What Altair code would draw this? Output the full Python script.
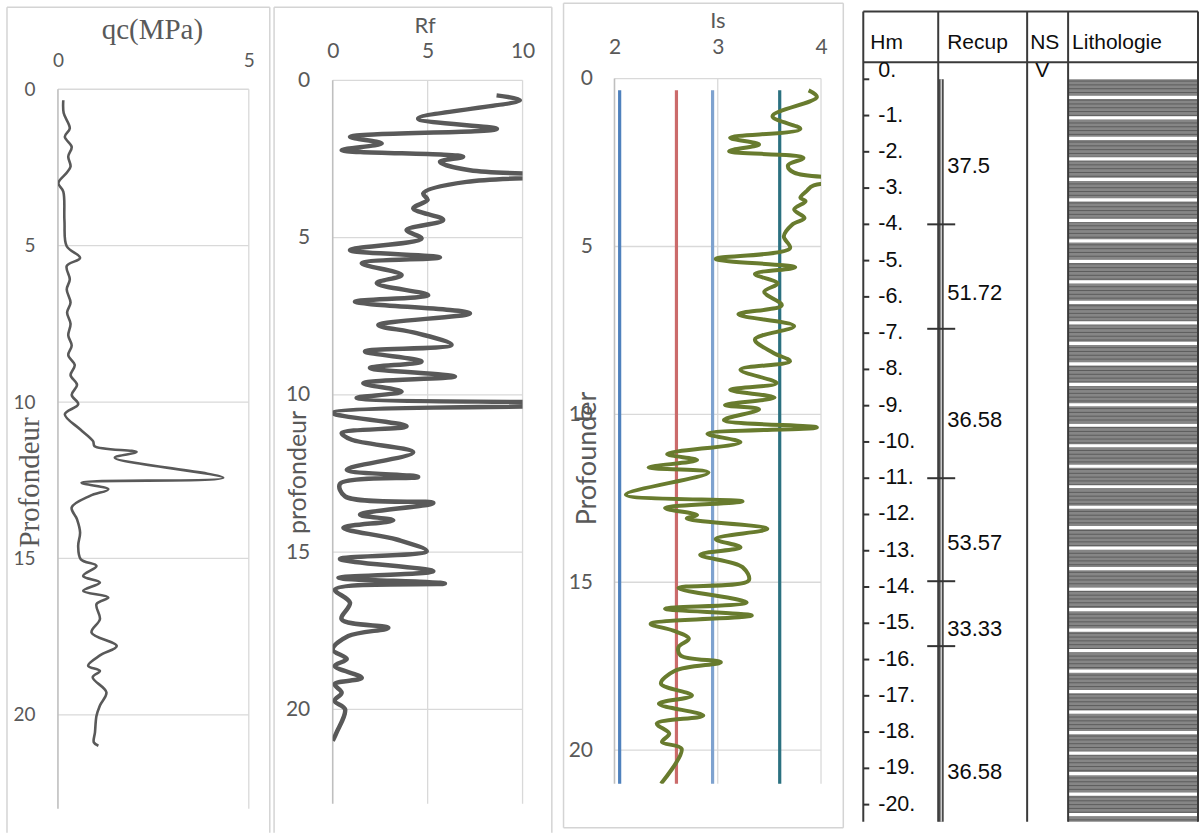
import altair as alt
import numpy as np
import pandas as pd

# ---------------- CPT sounding: cone resistance qc (MPa) against depth (m)
qc_depth = [0.35, 0.76, 1.25, 1.52, 1.84, 2.15, 2.47, 2.67, 3.0, 3.27,
            4.2, 5.02, 5.39, 5.65, 6.08, 6.4, 6.82, 7.14, 7.5, 7.87,
            8.19, 8.5, 8.82, 9.14, 9.45, 9.77, 10.07, 10.39, 10.87, 11.25,
            11.41, 11.6, 11.78, 12.42, 12.58, 12.79, 13.0, 13.37, 13.75, 14.17,
            14.6, 15.03, 15.24, 15.56, 15.77, 16.04, 16.25, 16.46, 16.94, 17.37,
            17.8, 18.1, 18.43, 18.6, 18.8, 19.28, 19.7, 20.03, 20.56, 20.88,
            20.99]
qc_value = [0.14, 0.15, 0.31, 0.18, 0.36, 0.27, 0.33, 0.23, 0.01, 0.14,
            0.17, 0.23, 0.58, 0.23, 0.31, 0.23, 0.33, 0.24, 0.33, 0.27,
            0.36, 0.27, 0.44, 0.33, 0.5, 0.36, 0.53, 0.18, 0.58, 0.92,
            0.96, 2.06, 1.49, 4.33, 0.62, 1.32, 0.84, 0.36, 0.5, 0.58,
            0.53, 0.6, 1.01, 0.66, 1.1, 0.66, 1.32, 1.01, 1.1, 0.88,
            1.54, 1.1, 0.79, 1.1, 0.91, 1.27, 1.1, 1.01, 0.97, 0.94,
            1.06]

# ---------------- friction ratio Rf against depth (m)
rf_depth = [0.48, 0.63, 1.22, 1.55, 1.8, 2.01, 2.22, 2.43, 2.59, 2.86,
            3.05, 3.23, 3.6, 3.8, 4.07, 4.44, 4.76, 5.03, 5.4, 5.63,
            5.82, 6.19, 6.45, 6.83, 7.04, 7.41, 7.78, 8.04, 8.41, 8.62,
            8.94, 9.15, 9.42, 9.63, 9.9, 10.1, 10.3, 10.58, 11.0, 11.22,
            11.43, 11.83, 12.38, 12.61, 12.83, 13.23, 13.44, 13.81, 13.99, 14.23,
            14.6, 14.97, 15.22, 15.61, 15.82, 16.0, 16.19, 16.61, 17.14, 17.41,
            17.67, 18.1, 18.4, 18.62, 19.0, 19.2, 19.47, 19.73, 20.0, 20.74,
            21.0]
rf_value = [8.63, 9.86, 4.5, 8.65, 0.91, 2.58, 0.47, 6.87, 5.65, 7.23,
            30.0, 7.05, 4.77, 5.0, 4.24, 5.82, 3.89, 4.68, 0.91, 5.65,
            1.53, 3.63, 2.32, 5.03, 1.17, 7.23, 2.4, 4.42, 6.26, 1.7,
            4.68, 1.96, 6.44, 1.61, 3.63, 1.26, 30.0, 0.0, 3.89, 0.47,
            1.0, 4.24, 0.74, 4.5, 0.38, 0.65, 5.3, 1.44, 3.19, 0.56,
            3.37, 4.95, 0.38, 5.3, 0.3, 5.91, 0.12, 0.91, 0.47, 2.93,
            0.82, 0.0, 0.74, 0.1, 1.53, 0.1, 0.47, 0.1, 0.65, 0.2,
            0.0]

# ---------------- soil behaviour index Is against depth (m)
is_depth = [0.35, 0.55, 1.12, 1.5, 1.76, 1.96, 2.16, 2.36, 2.58, 2.8,
            3.0, 3.18, 3.35, 3.55, 3.65, 3.9, 4.15, 4.35, 4.7, 5.05,
            5.37, 5.62, 5.82, 6.1, 6.35, 6.75, 7.02, 7.37, 7.77, 8.17,
            8.42, 8.67, 9.07, 9.27, 9.5, 9.72, 9.85, 10.17, 10.39, 10.58,
            10.83, 11.18, 11.36, 11.58, 11.73, 12.39, 12.59, 12.79, 13.0, 13.1,
            13.41, 13.71, 13.96, 14.18, 14.55, 14.95, 15.17, 15.6, 15.79, 15.99,
            16.24, 16.44, 16.68, 16.93, 17.18, 17.38, 17.63, 18.02, 18.37, 18.62,
            18.97, 19.21, 19.51, 19.76, 19.96, 21.0]
is_value = [3.88, 3.96, 3.53, 3.8, 3.12, 3.4, 3.11, 3.83, 3.68, 3.74,
            6.0, 3.93, 3.86, 3.8, 3.85, 3.74, 3.84, 3.72, 3.64, 3.7,
            2.98, 3.75, 3.36, 3.58, 3.45, 3.62, 3.2, 3.74, 3.36, 3.54,
            3.7, 3.22, 3.57, 3.12, 3.55, 3.07, 3.4, 3.06, 3.96, 2.9,
            3.22, 2.51, 2.8, 2.33, 2.91, 2.11, 3.24, 2.49, 2.8, 2.7,
            3.48, 2.98, 3.22, 2.83, 3.24, 3.3, 2.62, 3.28, 2.49, 3.33,
            2.35, 2.57, 2.72, 2.62, 2.64, 3.03, 2.59, 2.45, 2.75, 2.43,
            2.86, 2.41, 2.53, 2.46, 2.65, 2.45]

# class limits drawn as vertical lines on the Is log
is_limit_names = ["limite 1", "limite 2", "limite 3", "limite 4"]
is_limit_values = [2.05, 2.6, 2.95, 3.6]
is_limit_colors = ["#4F81BD", "#CB6B6B", "#7EA2CF", "#2B7180"]
is_limit_top, is_limit_bottom = 0.35, 21.0

# ---------------- borehole log
hm_depth = list(range(0, 21))
hm_text = ["0."] + [f"-{k}." for k in hm_depth[1:]]
recup_breaks = [4.0, 6.88, 11.0, 13.84, 15.63]
recup_text = ["37.5", "51.72", "36.58", "53.57", "33.33", "36.58"]
recup_text_depth = [2.4, 5.9, 9.4, 12.8, 15.15, 19.1]
header_text = ["Hm", "Recup", "NS", "Lithologie"]
ns_text = ["V"]

GREY_TXT = "#595959"
GRID = "#D9D9D9"
AXIS_LINE = "#BFBFBF"
FRAME = "#D4D4D4"
CURVE_GREY = "#595959"
IS_GREEN = "#687B2E"
INK = "#0D0D0D"

ONE = pd.DataFrame({"k": [0]})
DEPTH_TICKS = [0, 5, 10, 15, 20]
PLAIN_LABEL = "datum.value + ''"


def slot(x0, x1, y0, y1):
    # transparent box that fixes the footprint of a panel in the row
    return alt.Chart(ONE).mark_rect(opacity=0).encode(
        x=alt.value(x0), x2=alt.value(x1), y=alt.value(y0), y2=alt.value(y1))


def frame(left, top, right, bottom, closed=False):
    rule = alt.Chart(ONE).mark_rule(color=FRAME, strokeWidth=1.5)
    edges = [
        rule.encode(x=alt.value(left), y=alt.value(top), y2=alt.value(bottom)),
        rule.encode(x=alt.value(right), y=alt.value(top), y2=alt.value(bottom)),
        rule.encode(x=alt.value(left), x2=alt.value(right), y=alt.value(top)),
    ]
    if closed:
        edges.append(rule.encode(x=alt.value(left), x2=alt.value(right), y=alt.value(bottom)))
    return edges


def top_axis(ticks, title, tx, ty, tfont, tsize, lsize, lpad):
    return alt.Axis(
        orient="top", values=ticks, labelExpr=PLAIN_LABEL, tickCount=len(ticks) + 2,
        title=title, titleX=tx, titleY=ty,
        titleAngle=0, titleAlign="center", titleBaseline="middle",
        titleFont=tfont, titleFontSize=tsize, titleFontWeight="normal", titleColor=GREY_TXT,
        labelFont="Lato", labelFontSize=lsize, labelColor=GREY_TXT, labelPadding=lpad,
        labelBaseline="middle", labelAlign="center", labelFlush=False, labelOverlap=False,
        ticks=False, tickSize=0, domain=False, grid=False)


def left_axis(title, tx, ty, tfont, tsize, lsize, lpad):
    return alt.Axis(
        orient="left", values=DEPTH_TICKS, labelExpr=PLAIN_LABEL, tickCount=len(DEPTH_TICKS) + 2,
        title=title, titleX=tx, titleY=ty,
        titleAngle=270, titleAlign="center", titleBaseline="middle",
        titleFont=tfont, titleFontSize=tsize, titleFontWeight="normal", titleColor=GREY_TXT,
        labelFont="Lato", labelFontSize=lsize, labelColor=GREY_TXT, labelPadding=lpad,
        labelAlign="right", labelBaseline="middle", labelFlush=False, labelOverlap=False,
        ticks=False, tickSize=0, domain=False, grid=False)


def log_panel(curve_df, xdom, xticks, ydom, x_axis, y_axis, curve_color, curve_width,
              extra_layers_fn=None):
    xe = alt.X("v:Q", scale=alt.Scale(domain=xdom, nice=False, zero=False), axis=x_axis)
    ye = alt.Y("d:Q", scale=alt.Scale(domain=ydom, reverse=True, nice=False, zero=False), axis=y_axis)
    depth_max = ydom[1]
    hgrid = pd.DataFrame({"d": DEPTH_TICKS, "v": xdom[0], "v2": xdom[1]})
    vgrid = pd.DataFrame({"v": xticks[1:], "d": 0.0, "d2": depth_max})
    axis_line = pd.DataFrame({"v": [xdom[0]], "d": [0.0], "d2": [depth_max]})
    layers = [
        alt.Chart(hgrid).mark_rule(color=GRID, strokeWidth=1.3).encode(x=xe, x2="v2:Q", y=ye),
        alt.Chart(vgrid).mark_rule(color=GRID, strokeWidth=1.3).encode(x=xe, y=ye, y2="d2:Q"),
        alt.Chart(axis_line).mark_rule(color=AXIS_LINE, strokeWidth=1.6).encode(x=xe, y=ye, y2="d2:Q"),
    ]
    if extra_layers_fn is not None:
        layers += extra_layers_fn(xe, ye)
    layers.append(
        alt.Chart(curve_df).mark_line(
            color=curve_color, strokeWidth=curve_width, interpolate="catmull-rom", clip=True
        ).encode(x=xe, y=ye, order="d:Q"))
    return layers


# every panel's plot area starts at the same height in the row (y = 78 px)
ROW_TOP = 78

# ---------------- panel 1 : qc
panel1 = alt.layer(
    slot(-58, 214, -ROW_TOP, 755), *frame(-51, -71, 212, 755),
    *log_panel(pd.DataFrame({"d": qc_depth, "v": qc_value}), [0, 5], [0, 5], [-0.351, 23],
               top_axis([0, 5], "qc(MPa)", 94, -49, "Liberation Serif", 29, 19, 18),
               left_axis("Profondeur", -28, 404, "Liberation Serif", 29, 19, 23),
               CURVE_GREY, 2.6),
).properties(width=191, height=731)

# ---------------- panel 2 : Rf
panel2 = alt.layer(
    slot(-60.7, 224.3, -ROW_TOP, 755), *frame(-58.7, -71, 219.3, 755),
    *log_panel(pd.DataFrame({"d": rf_depth, "v": rf_value}), [0, 10], [0, 5, 10], [-0.0635, 23],
               top_axis([0, 5, 10], "Rf", 92, -53, "Lato", 22, 21, 27),
               left_axis("profondeur", -35, 394, "Lato", 25, 21, 23),
               CURVE_GREY, 4.5),
).properties(width=190, height=726)

# ---------------- panel 3 : Is
lim_df = pd.DataFrame({"name": is_limit_names, "v": is_limit_values,
                       "d": [is_limit_top] * len(is_limit_values),
                       "d2": [is_limit_bottom] * len(is_limit_values)})


def is_limits(xe, ye):
    return [alt.Chart(lim_df).mark_rule(strokeWidth=3.2).encode(
        x=xe, y=ye, y2="d2:Q",
        color=alt.Color("name:N", scale=alt.Scale(domain=is_limit_names, range=is_limit_colors),
                        legend=None))]


panel3 = alt.layer(
    slot(-57, 239, -ROW_TOP, 755), *frame(-51, -75, 229, 750, closed=True),
    *log_panel(pd.DataFrame({"d": is_depth, "v": is_value}), [2, 4], [2, 3, 4], [-0.01, 21],
               top_axis([2, 3, 4], "Is", 103, -58, "Lato", 22, 21, 31),
               left_axis("Profounder", -27, 380, "Lato", 27, 21, 22),
               IS_GREEN, 4, extra_layers_fn=is_limits),
).properties(width=206.7, height=706)

# ---------------- panel 4 : borehole log table
TAB_W = 335
TAB_TOP, TAB_BOT = -1.87, 20.47
HEAD_BOT = -0.47
COL_EDGES = [0, 75, 164, 205, TAB_W]
LITHO_X = 205
RECUP_X = 78

tab_xs = alt.Scale(domain=[0, TAB_W], nice=False, zero=False)
tab_ys = alt.Scale(domain=[-0.0275, TAB_BOT], reverse=True, nice=False, zero=False)


def TX(f):
    return alt.X(f + ":Q", scale=tab_xs, axis=None)


def TY(f):
    return alt.Y(f + ":Q", scale=tab_ys, axis=None)


litho_df = pd.DataFrame({"x": [LITHO_X], "x2": [TAB_W], "d": [0.0], "d2": [TAB_BOT]})
hatch_df = pd.DataFrame({"x": LITHO_X, "x2": TAB_W, "d": np.arange(0.05, TAB_BOT, 0.105)})
band_df = pd.DataFrame({"x": LITHO_X, "x2": TAB_W, "d": np.arange(0.5, TAB_BOT - 0.1, 0.565)})

vlines_df = pd.DataFrame({"x": COL_EDGES, "d": TAB_TOP, "d2": TAB_BOT})
hlines_df = pd.DataFrame({"x": 0, "x2": TAB_W, "d": [TAB_TOP, HEAD_BOT]})
recup_df = pd.DataFrame({"x": [RECUP_X], "d": [0.0], "d2": [TAB_BOT]})
breaks_df = pd.DataFrame({"x": RECUP_X - 14, "x2": RECUP_X + 14, "d": recup_breaks})
hm_tick_df = pd.DataFrame({"x": 0, "x2": 6, "d": hm_depth})
hm_lab_df = pd.DataFrame({"x": 15, "d": [d if d > 0 else -0.23 for d in hm_depth], "t": hm_text})
recup_lab_df = pd.DataFrame({"x": 84, "d": recup_text_depth, "t": recup_text})
head_df = pd.DataFrame({"x": [7, 84, 167, 209], "d": -1.0, "t": header_text})
ns_df = pd.DataFrame({"x": [179], "d": [-0.23], "t": ns_text})

litho = alt.Chart(litho_df).mark_rect(color="#868686").encode(
    x=TX("x"), x2="x2:Q", y=TY("d"), y2="d2:Q")
hatch = alt.Chart(hatch_df).mark_rule(color="#555555", strokeWidth=1, opacity=0.85).encode(
    x=TX("x"), x2="x2:Q", y=TY("d"))
bands = alt.Chart(band_df).mark_rule(color="white", strokeWidth=3.2).encode(
    x=TX("x"), x2="x2:Q", y=TY("d"))
vlines = alt.Chart(vlines_df).mark_rule(color="#3A3A3A", strokeWidth=2).encode(
    x=TX("x"), y=TY("d"), y2="d2:Q")
hlines = alt.Chart(hlines_df).mark_rule(color="#3A3A3A", strokeWidth=2).encode(
    x=TX("x"), x2="x2:Q", y=TY("d"))
recup_outer = alt.Chart(recup_df).mark_rule(color="#4A4A4A", strokeWidth=5).encode(
    x=TX("x"), y=TY("d"), y2="d2:Q")
recup_inner = alt.Chart(recup_df).mark_rule(color="#D8D8D8", strokeWidth=1.4).encode(
    x=TX("x"), y=TY("d"), y2="d2:Q")
breaks = alt.Chart(breaks_df).mark_rule(color="#333333", strokeWidth=2).encode(
    x=TX("x"), x2="x2:Q", y=TY("d"))
hm_ticks = alt.Chart(hm_tick_df).mark_rule(color="#333333", strokeWidth=2).encode(
    x=TX("x"), x2="x2:Q", y=TY("d"))


def table_text(df, size, align="left"):
    return alt.Chart(df).mark_text(
        font="Liberation Sans", fontSize=size, color=INK, align=align, baseline="middle"
    ).encode(x=TX("x"), y=TY("d"), text="t:N")


panel4 = alt.layer(
    slot(-10, 337, -ROW_TOP, 755),
    litho, hatch, bands, vlines, hlines, recup_outer, recup_inner, breaks, hm_ticks,
    table_text(hm_lab_df, 21.5), table_text(recup_lab_df, 22), table_text(head_df, 21),
    table_text(ns_df, 21, align="center"),
).properties(width=TAB_W, height=744)

chart = alt.hconcat(panel1, panel2, panel3, panel4, spacing=0, bounds="full").properties(
    padding=0, background="white"
).configure_view(stroke=None)

chart.save("out.html", embed_options={"renderer": "svg", "actions": False})
